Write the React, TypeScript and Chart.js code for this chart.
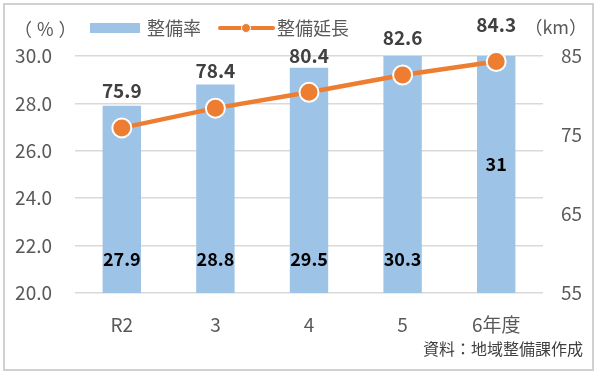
import React, { useEffect, useRef } from "react";
import { Chart, registerables } from "chart.js";

Chart.register(...registerables);

const categories = ["R2", "3", "4", "5", "6年度"];
const rateValues = [27.9, 28.8, 29.5, 30.3, 31];
const lengthValues = [75.9, 78.4, 80.4, 82.6, 84.3];
const rateLabel = "整備率";
const lengthLabel = "整備延長";
const leftTitle = "（%）";
const rightTitle = "（km）";
const sourceNote = "資料：地域整備課作成";

const FONT = "'Noto Sans CJK JP', 'Noto Sans', sans-serif";
const BLUE = "#9DC3E6";
const ORANGE = "#ED7D31";
const GRAY = "#595959";

const decorPlugin = {
  id: "decor",
  afterDatasetsDraw(chart: any) {
    const ctx = chart.ctx;
    const yL = chart.scales.y;
    const area = chart.chartArea;
    ctx.save();
    // bar labels
    const barMeta = chart.getDatasetMeta(0);
    ctx.font = `bold 18px ${FONT}`;
    ctx.fillStyle = "#000000";
    ctx.textAlign = "center";
    ctx.textBaseline = "middle";
    barMeta.data.forEach((el: any, i: number) => {
      const v = rateValues[i];
      let y = yL.getPixelForValue(yL.min) - 34;
      if (v > yL.max + 0.5) y = (area.top + area.bottom) / 2 - 10;
      ctx.fillText(String(v), el.x, y);
    });
    // line labels
    const lineMeta = chart.getDatasetMeta(1);
    ctx.font = `bold 19px ${FONT}`;
    ctx.fillStyle = "#404040";
    lineMeta.data.forEach((el: any, i: number) => {
      ctx.fillText(lengthValues[i].toFixed(1), el.x, el.y - 37);
    });
    ctx.restore();
  },
  afterDraw(chart: any) {
    const ctx = chart.ctx;
    ctx.save();
    // frame
    ctx.strokeStyle = "#d0d0d0";
    ctx.lineWidth = 2;
    ctx.strokeRect(4, 4, 589, 366);
    // axis titles
    ctx.font = `18px 'Noto Sans CJK JP'`;
    ctx.fillStyle = GRAY;
    ctx.textBaseline = "middle";
    ctx.textAlign = "left";
    try { (ctx as any).letterSpacing = "5px"; } catch (e) {}
    ctx.fillText(leftTitle, 14, 29);
    try { (ctx as any).letterSpacing = "0px"; } catch (e) {}
    ctx.textAlign = "right";
    ctx.fillText(rightTitle, 587, 27);
    ctx.textAlign = "left";
    // legend
    ctx.font = `18px ${FONT}`;
    ctx.fillStyle = BLUE;
    ctx.fillRect(90, 23, 50, 10);
    ctx.fillStyle = GRAY;
    ctx.fillText(rateLabel, 147, 28);
    ctx.strokeStyle = ORANGE;
    ctx.lineWidth = 4;
    ctx.lineCap = "round";
    ctx.beginPath();
    ctx.moveTo(220, 28);
    ctx.lineTo(273, 28);
    ctx.stroke();
    ctx.fillStyle = ORANGE;
    ctx.beginPath();
    ctx.arc(246, 28, 4.5, 0, Math.PI * 2);
    ctx.fill();
    ctx.strokeStyle = "#ffffff";
    ctx.lineWidth = 1;
    ctx.stroke();
    ctx.fillStyle = GRAY;
    ctx.fillText(lengthLabel, 277, 28);
    // source
    ctx.font = `16px ${FONT}`;
    ctx.textAlign = "right";
    ctx.fillStyle = "#404040";
    ctx.fillText(sourceNote, 583, 349);
    ctx.restore();
  },
};

export default function App() {
  const ref = useRef<HTMLCanvasElement>(null);
  useEffect(() => {
    document.body.style.margin = "0";
    const chart = new Chart(ref.current as HTMLCanvasElement, {
      type: "bar",
      data: {
        labels: categories,
        datasets: [
          {
            type: "bar",
            label: rateLabel,
            data: rateValues,
            backgroundColor: BLUE,
            yAxisID: "y",
            categoryPercentage: 1,
            barPercentage: 0.41,
            clip: 0,
            order: 2,
          } as any,
          {
            type: "line",
            label: lengthLabel,
            data: lengthValues,
            borderColor: ORANGE,
            borderWidth: 4.5,
            pointRadius: 9.5,
            pointBackgroundColor: ORANGE,
            pointBorderColor: "#ffffff",
            pointBorderWidth: 2,
            yAxisID: "y1",
            clip: false,
            order: 1,
          } as any,
        ],
      },
      options: {
        animation: false,
        responsive: false,
        devicePixelRatio: 1,
        layout: { padding: { top: 56, left: 0, right: 0, bottom: 0 } },
        plugins: { legend: { display: false }, tooltip: { enabled: false } },
        scales: {
          x: {
            grid: { display: false },
            border: { display: false },
            ticks: { color: GRAY, font: { family: FONT, size: 19 }, padding: 12 },
            afterFit(s: any) {
              s.height = 83;
            },
          },
          y: {
            position: "left",
            min: 20,
            max: 30,
            ticks: {
              stepSize: 2,
              color: GRAY,
              font: { family: FONT, size: 19 },
              padding: 23,
              callback: (v: any) => Number(v).toFixed(1),
            },
            grid: { color: "#d9d9d9", lineWidth: 1.5, drawTicks: false },
            border: { display: false },
            afterFit(s: any) {
              s.width = 75;
            },
          },
          y1: {
            position: "right",
            min: 55,
            max: 85,
            ticks: {
              stepSize: 10,
              color: GRAY,
              font: { family: FONT, size: 19 },
              padding: 18,
            },
            grid: { display: false, drawTicks: false },
            border: { display: false },
            afterFit(s: any) {
              s.width = 55;
            },
          },
        },
      } as any,
      plugins: [decorPlugin],
    });
    return () => chart.destroy();
  }, []);
  return (
    <div style={{ width: 598, height: 376, background: "#fff" }}>
      <canvas ref={ref} width={598} height={376} />
    </div>
  );
}
